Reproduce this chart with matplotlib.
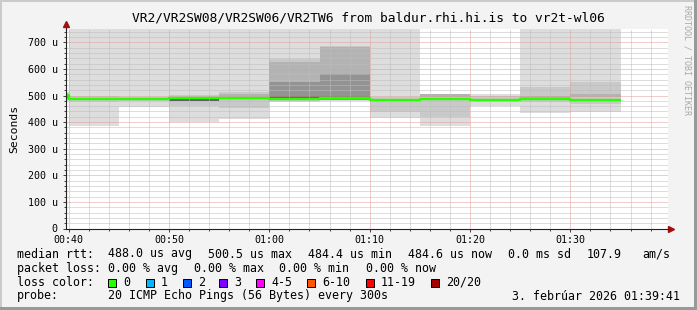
import numpy as np
import matplotlib.pyplot as plt
from matplotlib.patches import Rectangle
from matplotlib.lines import Line2D

nan = np.nan

# 5 minute steps (start of each step) and the median rtt in microseconds
starts = ["00:35", "00:40", "00:45", "00:50", "00:55", "01:00",
          "01:05", "01:10", "01:15", "01:20", "01:25", "01:30"]
median = [500.5, 486, 486, 490, 492, 488, 489, 484.4, 487, 485, 486, 484.6]

# smoke bands, outermost (lightest) first, nan = band not shown
band1_lo = [478, 387, 456, 400, 413, 477, 481, 415, 387, 462, 435, 437]
band1_hi = [512, 800, 800, 800, 800, 800, 800, 800, 506, 506, 800, 800]
band2_lo = [484, 476, 478, 462, 452, 480, 482, 437, 418, 478, 476, 470]
band2_hi = [508, 497, 495, 503, 515, 638, 688, 494, 506, 497, 531, 551]
band3_lo = [488, nan, nan, nan, 494, 482, 483, nan, 493, nan, 486, 494]
band3_hi = [506, nan, nan, nan, 506, 625, 682, nan, 506, nan, 500, 506]
band4_lo = [490, nan, nan, nan, nan, 484, 484, nan, nan, nan, nan, nan]
band4_hi = [504, nan, nan, nan, nan, 550, 582, nan, nan, nan, nan, nan]
band5_lo = [495, nan, nan, 481, nan, 486, 487, 481, nan, nan, nan, nan]
band5_hi = [503, nan, nan, 486, nan, 500, 500, 485, nan, nan, nan, nan]

bands = [(band1_lo, band1_hi), (band2_lo, band2_hi), (band3_lo, band3_hi),
         (band4_lo, band4_hi), (band5_lo, band5_hi)]
band_colors = ["#dddddd", "#c9c9c9", "#b3b3b3", "#939393", "#606060"]

xtick_labels = ["00:40", "00:50", "01:00", "01:10", "01:20", "01:30"]
ytick_values = [0, 100, 200, 300, 400, 500, 600, 700]
ytick_labels = ["0", "100 u", "200 u", "300 u", "400 u", "500 u", "600 u", "700 u"]

loss_labels = ["0", "1", "2", "3", "4-5", "6-10", "11-19", "20/20"]
loss_colors = ["#26ff00", "#00b8ff", "#0059ff", "#7e00ff", "#ff00ff",
               "#ff5500", "#ff0000", "#a10000"]


def minutes(s):
    h, m = s.split(":")
    return int(h) * 60 + int(m)


t = np.array([minutes(s) for s in starts])
step = 5

W, H = 697, 310
MONO = "DejaVu Sans Mono"
plt.rcParams["font.family"] = MONO

fig = plt.figure(figsize=(W / 100, H / 100), dpi=100, facecolor="#f3f3f3")
ax = fig.add_axes([65.5 / W, (H - 228.5) / H, 602 / W, 200 / H])
ax.set_facecolor("white")

# smoke
for (lo, hi), col in zip(bands, band_colors):
    for i in range(len(t)):
        if np.isnan(lo[i]):
            continue
        ax.fill_between([t[i], t[i] + step], lo[i], hi[i], color=col,
                        linewidth=0, zorder=1)

# median line
ax.step(np.append(t, t[-1] + step), median + [median[-1]], where="post",
        color="#26ff00", lw=1.7, zorder=5, solid_capstyle="butt")

x0 = 39 + 41 / 60
ax.set_xlim(x0, x0 + 60)
ax.set_ylim(0, 752)

ax.set_xticks([minutes(s) for s in xtick_labels])
ax.set_xticklabels(xtick_labels)
ax.set_xticks(np.arange(40, 100, 2), minor=True)
ax.set_yticks(ytick_values)
ax.set_yticklabels(ytick_labels)
ax.set_yticks(np.arange(0, 752, 20), minor=True)

ax.grid(which="minor", color="#bdbdbd", lw=0.72, ls=(0, (1, 1)), zorder=3)
ax.grid(which="major", color="#e39a9a", lw=0.72, ls=(0, (1, 1)), zorder=3)
ax.set_axisbelow(False)

ax.tick_params(which="both", direction="out", color="#444444", width=0.72,
               labelsize=7.2, pad=2)
ax.tick_params(which="major", length=2.5)
ax.tick_params(which="minor", length=1.5)
ax.tick_params(axis="y", pad=3)

for side in ["top", "right"]:
    ax.spines[side].set_visible(False)
for side in ["left", "bottom"]:
    ax.spines[side].set_color("#222222")
    ax.spines[side].set_linewidth(0.8)
    ax.spines[side].set_zorder(6)

# arrows on the axes
ax.add_line(Line2D([0, 0], [1, 1.025], transform=ax.transAxes, color="#222222",
                   lw=0.8, clip_on=False))
ax.plot([0], [1.025], marker="^", color="#a01010", ms=4, transform=ax.transAxes,
        clip_on=False, mec="#a01010")
ax.add_line(Line2D([1, 1.006], [0, 0], transform=ax.transAxes, color="#222222",
                   lw=0.8, clip_on=False))
ax.plot([1.006], [0], marker=">", color="#a01010", ms=4, transform=ax.transAxes,
        clip_on=False, mec="#a01010")

ax.set_ylabel("Seconds", fontsize=8.2, labelpad=6)

fig.text(368 / W, 1 - 18 / H,
         "VR2/VR2SW08/VR2SW06/VR2TW6 from baldur.rhi.hi.is to vr2t-wl06",
         ha="center", va="center", fontsize=9.3)
fig.text(686.5 / W, 1 - 60 / H, "RRDTOOL / TOBI OETIKER", rotation=270,
         ha="center", va="center", fontsize=6, color="#a8a8a8")


def put(x, y, s, **kw):
    fig.text(x / W, 1 - y / H, s, ha="left", va="center", fontsize=8.4, **kw)


# legend rows
row1 = [(16.7, "median rtt:"), (107.7, "488.0 us avg"), (207.7, "500.5 us max"),
        (307.7, "484.4 us min"), (407.7, "484.6 us now"), (507.7, "0.0 ms sd"),
        (586.7, "107.9"), (642.3, "am/s")]
row2 = [(16.7, "packet loss:"), (107.7, "0.00 % avg"), (194.3, "0.00 % max"),
        (279.3, "0.00 % min"), (365.7, "0.00 % now")]
for x, s in row1:
    put(x, 254, s)
for x, s in row2:
    put(x, 268.3, s)

put(16.7, 282.3, "loss color:")
box_x = [108.3, 145.7, 182.7, 219.3, 256, 307.3, 365.7, 430.7]
for bx, lab, col in zip(box_x, loss_labels, loss_colors):
    fig.add_artist(Rectangle((bx / W, 1 - 286.7 / H), 8 / W, 8 / H,
                             transform=fig.transFigure, facecolor=col,
                             edgecolor="black", lw=0.72))
    put(bx + 15, 282.3, lab)

put(16.7, 296, "probe:")
put(107.7, 296, "20 ICMP Echo Pings (56 Bytes) every 300s")
fig.text(680 / W, 1 - 296 / H, "3. febrúar 2026 01:39:41", ha="right",
         va="center", fontsize=8.4)

# shaded frame
fig.add_artist(Rectangle((0, 1 - 2 / H), 1, 2 / H, transform=fig.transFigure,
                         facecolor="#cbcbcb", lw=0))
fig.add_artist(Rectangle((0, 0), 2 / W, 1, transform=fig.transFigure,
                         facecolor="#cbcbcb", lw=0))
fig.add_artist(Rectangle((0, 0), 1, 3 / H, transform=fig.transFigure,
                         facecolor="#999999", lw=0))
fig.add_artist(Rectangle((1 - 3 / W, 0), 3 / W, 1, transform=fig.transFigure,
                         facecolor="#999999", lw=0))

fig.savefig("out.png", dpi=100, facecolor=fig.get_facecolor())
